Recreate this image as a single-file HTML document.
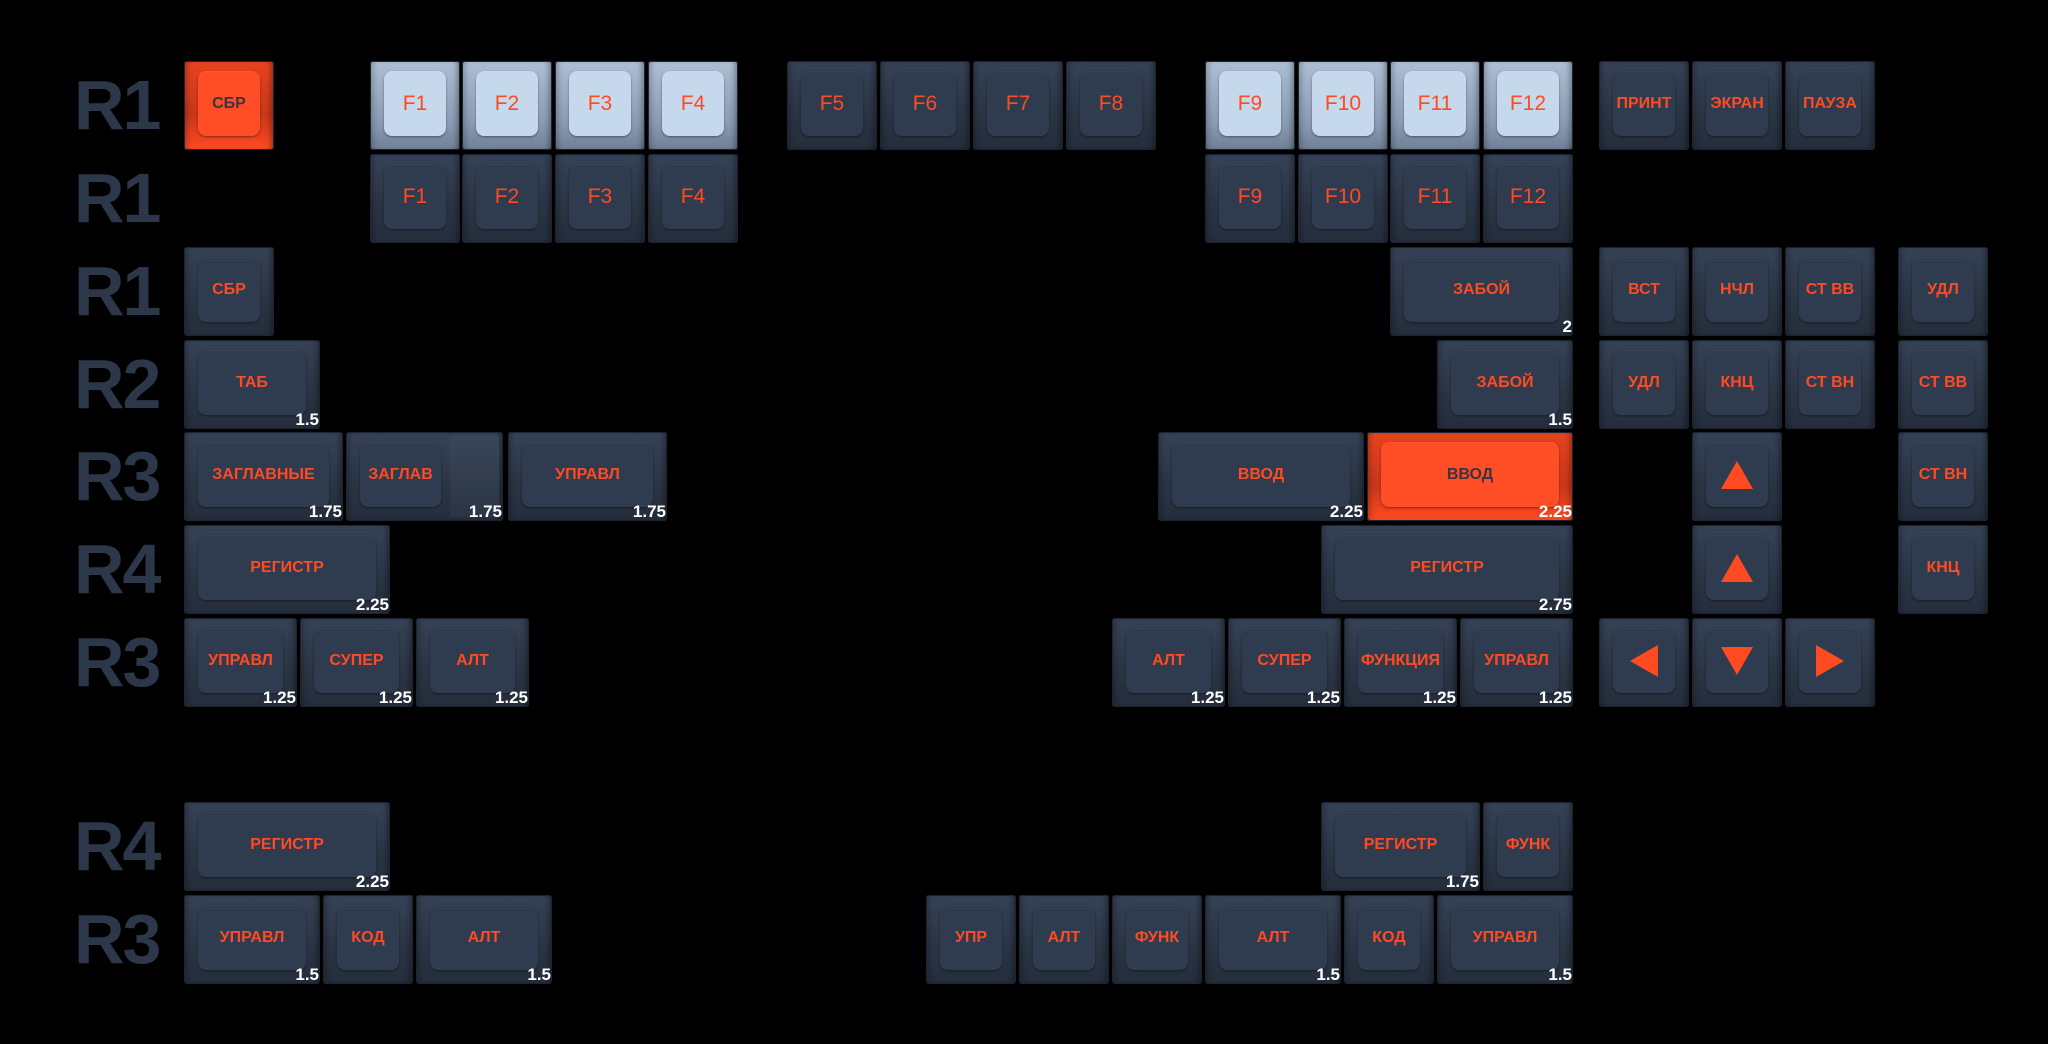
<!DOCTYPE html>
<html><head><meta charset="utf-8"><style>
html,body{margin:0;padding:0;background:#000;}
body{width:2048px;height:1044px;position:relative;overflow:hidden;font-family:"Liberation Sans","DejaVu Sans",sans-serif;}
.r{position:absolute;left:74px;font-size:70px;font-weight:bold;color:#2c374a;line-height:89px;height:89px;letter-spacing:-2px}
.k{position:absolute;height:89px;border-radius:3px;background:linear-gradient(180deg,#364256 0%,#2a3444 60%,#242d3b 100%);box-shadow:inset 0 0 0 1px #1c2430,inset 6px 0 6px -3px rgba(0,0,0,.25),inset -6px 0 6px -3px rgba(0,0,0,.35)}
.k .c{position:absolute;left:14px;right:14px;top:10px;bottom:14px;border-radius:8px;background:#2f3b4e;box-shadow:0 1px 2px rgba(0,0,0,.4),inset 0 1px 0 rgba(255,255,255,.05);display:flex;align-items:center;justify-content:center;color:#ff4a22;font-weight:bold;font-size:16px;letter-spacing:0}
.k .c.f{font-weight:normal;font-size:21px}
.k.l{background:linear-gradient(180deg,#aebfd4 0%,#8a9bb2 70%,#6f7f95 100%)}
.k.l .c{background:#c6d8eb;color:#ff4a22}
.k.o{background:linear-gradient(180deg,#e8431f 0%,#c8371a 60%,#ff4a22 100%)}
.k.o .c{background:#ff4d26;color:#3b3340}
.s{position:absolute;right:1px;bottom:-1px;color:#fff;font-weight:bold;font-size:17px}
.tu,.td{width:0;height:0;border-left:16px solid transparent;border-right:16px solid transparent}
.tu{border-bottom:28px solid #ff4a22}
.td{border-top:28px solid #ff4a22}
.tl,.tr{width:0;height:0;border-top:16px solid transparent;border-bottom:16px solid transparent}
.tl{border-right:28px solid #ff4a22}
.tr{border-left:28px solid #ff4a22}
</style></head><body>

<div class="r" style="top:61px">R1</div>
<div class="r" style="top:154px">R1</div>
<div class="r" style="top:247px">R1</div>
<div class="r" style="top:340px">R2</div>
<div class="r" style="top:432px">R3</div>
<div class="r" style="top:525px">R4</div>
<div class="r" style="top:618px">R3</div>
<div class="r" style="top:802px">R4</div>
<div class="r" style="top:895px">R3</div>

<div class="k o" style="left:184px;top:61px;width:90px"><div class="c">СБР</div></div>
<div class="k l" style="left:370px;top:61px;width:90px"><div class="c f">F1</div></div>
<div class="k l" style="left:462px;top:61px;width:90px"><div class="c f">F2</div></div>
<div class="k l" style="left:555px;top:61px;width:90px"><div class="c f">F3</div></div>
<div class="k l" style="left:648px;top:61px;width:90px"><div class="c f">F4</div></div>
<div class="k" style="left:787px;top:61px;width:90px"><div class="c f">F5</div></div>
<div class="k" style="left:880px;top:61px;width:90px"><div class="c f">F6</div></div>
<div class="k" style="left:973px;top:61px;width:90px"><div class="c f">F7</div></div>
<div class="k" style="left:1066px;top:61px;width:90px"><div class="c f">F8</div></div>
<div class="k l" style="left:1205px;top:61px;width:90px"><div class="c f">F9</div></div>
<div class="k l" style="left:1298px;top:61px;width:90px"><div class="c f">F10</div></div>
<div class="k l" style="left:1390px;top:61px;width:90px"><div class="c f">F11</div></div>
<div class="k l" style="left:1483px;top:61px;width:90px"><div class="c f">F12</div></div>
<div class="k" style="left:1599px;top:61px;width:90px"><div class="c">ПРИНТ</div></div>
<div class="k" style="left:1692px;top:61px;width:90px"><div class="c">ЭКРАН</div></div>
<div class="k" style="left:1785px;top:61px;width:90px"><div class="c">ПАУЗА</div></div>

<div class="k" style="left:370px;top:154px;width:90px"><div class="c f">F1</div></div>
<div class="k" style="left:462px;top:154px;width:90px"><div class="c f">F2</div></div>
<div class="k" style="left:555px;top:154px;width:90px"><div class="c f">F3</div></div>
<div class="k" style="left:648px;top:154px;width:90px"><div class="c f">F4</div></div>
<div class="k" style="left:1205px;top:154px;width:90px"><div class="c f">F9</div></div>
<div class="k" style="left:1298px;top:154px;width:90px"><div class="c f">F10</div></div>
<div class="k" style="left:1390px;top:154px;width:90px"><div class="c f">F11</div></div>
<div class="k" style="left:1483px;top:154px;width:90px"><div class="c f">F12</div></div>

<div class="k" style="left:184px;top:247px;width:90px"><div class="c">СБР</div></div>
<div class="k" style="left:1390px;top:247px;width:183px"><div class="c">ЗАБОЙ</div><div class="s">2</div></div>
<div class="k" style="left:1599px;top:247px;width:90px"><div class="c">ВСТ</div></div>
<div class="k" style="left:1692px;top:247px;width:90px"><div class="c">НЧЛ</div></div>
<div class="k" style="left:1785px;top:247px;width:90px"><div class="c">СТ ВВ</div></div>
<div class="k" style="left:1898px;top:247px;width:90px"><div class="c">УДЛ</div></div>

<div class="k" style="left:184px;top:340px;width:136px"><div class="c">ТАБ</div><div class="s">1.5</div></div>
<div class="k" style="left:1437px;top:340px;width:136px"><div class="c">ЗАБОЙ</div><div class="s">1.5</div></div>
<div class="k" style="left:1599px;top:340px;width:90px"><div class="c">УДЛ</div></div>
<div class="k" style="left:1692px;top:340px;width:90px"><div class="c">КНЦ</div></div>
<div class="k" style="left:1785px;top:340px;width:90px"><div class="c">СТ ВН</div></div>
<div class="k" style="left:1898px;top:340px;width:90px"><div class="c">СТ ВВ</div></div>

<div class="k" style="left:184px;top:432px;width:159px"><div class="c">ЗАГЛАВНЫЕ</div><div class="s">1.75</div></div>
<div class="k" style="left:346px;top:432px;width:157px"><div class="c" style="right:62px">ЗАГЛАВ</div><div style="position:absolute;left:104px;right:4px;top:4px;bottom:4px;background:linear-gradient(180deg,#3a4659,#2a3444);border-radius:3px"></div><div class="s">1.75</div></div>
<div class="k" style="left:508px;top:432px;width:159px"><div class="c">УПРАВЛ</div><div class="s">1.75</div></div>
<div class="k" style="left:1158px;top:432px;width:206px"><div class="c">ВВОД</div><div class="s">2.25</div></div>
<div class="k o" style="left:1367px;top:432px;width:206px"><div class="c">ВВОД</div><div class="s">2.25</div></div>
<div class="k" style="left:1692px;top:432px;width:90px"><div class="c"><div class="tu"></div></div></div>
<div class="k" style="left:1898px;top:432px;width:90px"><div class="c">СТ ВН</div></div>

<div class="k" style="left:184px;top:525px;width:206px"><div class="c">РЕГИСТР</div><div class="s">2.25</div></div>
<div class="k" style="left:1321px;top:525px;width:252px"><div class="c">РЕГИСТР</div><div class="s">2.75</div></div>
<div class="k" style="left:1692px;top:525px;width:90px"><div class="c"><div class="tu"></div></div></div>
<div class="k" style="left:1898px;top:525px;width:90px"><div class="c">КНЦ</div></div>

<div class="k" style="left:184px;top:618px;width:113px"><div class="c">УПРАВЛ</div><div class="s">1.25</div></div>
<div class="k" style="left:300px;top:618px;width:113px"><div class="c">СУПЕР</div><div class="s">1.25</div></div>
<div class="k" style="left:416px;top:618px;width:113px"><div class="c">АЛТ</div><div class="s">1.25</div></div>
<div class="k" style="left:1112px;top:618px;width:113px"><div class="c">АЛТ</div><div class="s">1.25</div></div>
<div class="k" style="left:1228px;top:618px;width:113px"><div class="c">СУПЕР</div><div class="s">1.25</div></div>
<div class="k" style="left:1344px;top:618px;width:113px"><div class="c">ФУНКЦИЯ</div><div class="s">1.25</div></div>
<div class="k" style="left:1460px;top:618px;width:113px"><div class="c">УПРАВЛ</div><div class="s">1.25</div></div>
<div class="k" style="left:1599px;top:618px;width:90px"><div class="c"><div class="tl"></div></div></div>
<div class="k" style="left:1692px;top:618px;width:90px"><div class="c"><div class="td"></div></div></div>
<div class="k" style="left:1785px;top:618px;width:90px"><div class="c"><div class="tr"></div></div></div>

<div class="k" style="left:184px;top:802px;width:206px"><div class="c">РЕГИСТР</div><div class="s">2.25</div></div>
<div class="k" style="left:1321px;top:802px;width:159px"><div class="c">РЕГИСТР</div><div class="s">1.75</div></div>
<div class="k" style="left:1483px;top:802px;width:90px"><div class="c">ФУНК</div></div>

<div class="k" style="left:184px;top:895px;width:136px"><div class="c">УПРАВЛ</div><div class="s">1.5</div></div>
<div class="k" style="left:323px;top:895px;width:90px"><div class="c">КОД</div></div>
<div class="k" style="left:416px;top:895px;width:136px"><div class="c">АЛТ</div><div class="s">1.5</div></div>
<div class="k" style="left:926px;top:895px;width:90px"><div class="c">УПР</div></div>
<div class="k" style="left:1019px;top:895px;width:90px"><div class="c">АЛТ</div></div>
<div class="k" style="left:1112px;top:895px;width:90px"><div class="c">ФУНК</div></div>
<div class="k" style="left:1205px;top:895px;width:136px"><div class="c">АЛТ</div><div class="s">1.5</div></div>
<div class="k" style="left:1344px;top:895px;width:90px"><div class="c">КОД</div></div>
<div class="k" style="left:1437px;top:895px;width:136px"><div class="c">УПРАВЛ</div><div class="s">1.5</div></div>

</body></html>
